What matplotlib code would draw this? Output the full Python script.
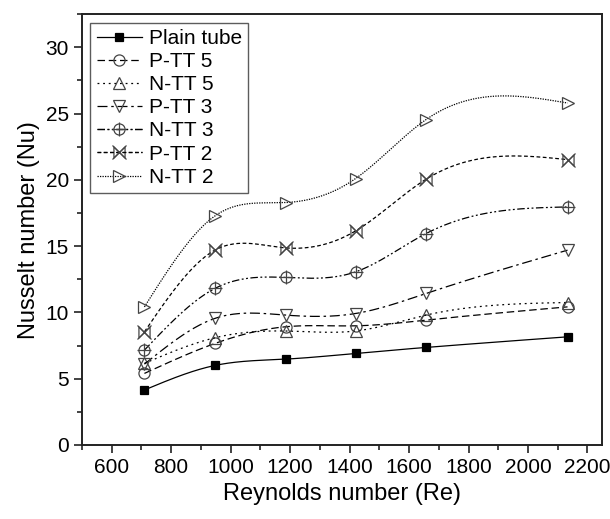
import numpy as np
import matplotlib
matplotlib.use("Agg")
import matplotlib.pyplot as plt
from matplotlib.ticker import MultipleLocator
from matplotlib.path import Path
from matplotlib.legend_handler import HandlerTuple

plt.rcParams['font.family'] = ['Liberation Sans', 'DejaVu Sans']

re_vals = [710, 947, 1185, 1420, 1657, 2133]

plain_tube = [4.15, 6.0, 6.48, 6.91, 7.36, 8.16]
p_tt5 = [5.4, 7.66, 8.92, 8.99, 9.42, 10.42]
n_tt5 = [6.16, 8.09, 8.6, 8.6, 9.8, 10.75]
p_tt3 = [6.1, 9.55, 9.8, 9.92, 11.43, 14.7]
n_tt3 = [7.16, 11.81, 12.64, 13.06, 15.95, 17.96]
p_tt2 = [8.54, 14.7, 14.87, 16.15, 20.05, 21.53]
n_tt2 = [10.42, 17.28, 18.29, 20.1, 24.55, 25.8]


def spline(x, y, n=300):
    """natural cubic spline, like Origin's spline connect"""
    x = np.asarray(x, float)
    y = np.asarray(y, float)
    k = len(x)
    h = np.diff(x)
    A = np.zeros((k, k))
    b = np.zeros(k)
    A[0, 0] = A[-1, -1] = 1
    for i in range(1, k - 1):
        A[i, i - 1] = h[i - 1]
        A[i, i] = 2 * (h[i - 1] + h[i])
        A[i, i + 1] = h[i]
        b[i] = 6 * ((y[i + 1] - y[i]) / h[i] - (y[i] - y[i - 1]) / h[i - 1])
    m = np.linalg.solve(A, b)
    xs = np.linspace(x[0], x[-1], n)
    idx = np.clip(np.searchsorted(x, xs) - 1, 0, k - 2)
    x0, x1 = x[idx], x[idx + 1]
    hh = x1 - x0
    t0, t1 = x1 - xs, xs - x0
    ys = (m[idx] * t0 ** 3 + m[idx + 1] * t1 ** 3) / (6 * hh) \
        + (y[idx] / hh - m[idx] * hh / 6) * t0 \
        + (y[idx + 1] / hh - m[idx + 1] * hh / 6) * t1
    return xs, ys


bowtie = Path([(-1, -1), (1, 1), (1, -1), (-1, 1), (-1, -1)],
              [Path.MOVETO, Path.LINETO, Path.LINETO, Path.LINETO, Path.CLOSEPOLY])

# label, data, linestyle, list of (marker, size, facecolor)
series = [
    ("Plain tube", plain_tube, '-', [('s', 6, 'black')]),
    ("P-TT 5", p_tt5, (0, (6, 3)), [('o', 8, 'none')]),
    ("N-TT 5", n_tt5, (0, (1.5, 3)), [('^', 8, 'none')]),
    ("P-TT 3", p_tt3, (0, (8, 3, 2, 3)), [('v', 8, 'none')]),
    ("N-TT 3", n_tt3, (0, (6, 2, 1.5, 2, 1.5, 2)), [('o', 8, 'none'), ('+', 10, 'none')]),
    ("P-TT 2", p_tt2, (0, (3, 2)), [(bowtie, 8, 'none'), ('x', 10, 'none')]),
    ("N-TT 2", n_tt2, (0, (1, 1)), [('>', 8, 'none')]),
]

fig = plt.figure(figsize=(6.1, 5.19), dpi=100)
ax = fig.add_axes([0.1344, 0.1426, 0.853, 0.830])

handles, labels = [], []
for label, vals, ls, marks in series:
    xs, ys = spline(re_vals, vals)
    line, = ax.plot(xs, ys, color='black', linestyle=ls, linewidth=0.9)
    parts = []
    for mk, ms, fc in marks:
        ec = 'black' if fc == 'black' else '#444444'
        ax.plot(re_vals, vals, linestyle='none', marker=mk, markersize=ms,
                markerfacecolor=fc, markeredgecolor=ec, markeredgewidth=0.9)
        h, = ax.plot([], [], color='black', linestyle=ls, linewidth=0.9, marker=mk,
                     markersize=ms, markerfacecolor=fc, markeredgecolor=ec,
                     markeredgewidth=0.9)
        parts.append(h)
    handles.append(tuple(parts))
    labels.append(label)

ax.set_xlim(500, 2250)
ax.set_ylim(0, 32.5)
ax.xaxis.set_major_locator(MultipleLocator(200))
ax.xaxis.set_minor_locator(MultipleLocator(100))
ax.yaxis.set_major_locator(MultipleLocator(5))
ax.yaxis.set_minor_locator(MultipleLocator(2.5))
ax.tick_params(which='both', direction='out', labelsize=15, width=1.2, color='#222222')
ax.tick_params(which='major', length=6)
ax.tick_params(which='minor', length=3.5)
for s in ax.spines.values():
    s.set_linewidth(1.4)
    s.set_color('#222222')

ax.set_xlabel("Reynolds number (Re)", fontsize=17)
ax.set_ylabel("Nusselt number (Nu)", fontsize=17)

leg = ax.legend(handles, labels, loc='upper left', fontsize=15, frameon=True,
                fancybox=False, edgecolor='#333333', handlelength=2.2,
                labelspacing=0.2, borderaxespad=0.4, handletextpad=0.3,
                borderpad=0.3, handler_map={tuple: HandlerTuple(ndivide=1)})
leg.get_frame().set_linewidth(1.0)

fig.savefig("out.png", dpi=100)
